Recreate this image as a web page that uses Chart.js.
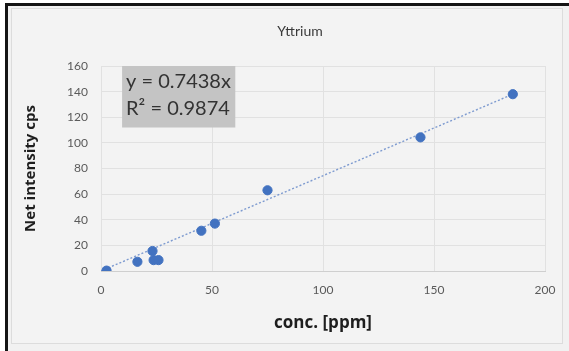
<!DOCTYPE html>
<html>
<head>
<meta charset="utf-8">
<script src="https://cdn.jsdelivr.net/npm/chart.js@4.4.0/dist/chart.umd.min.js"></script>
<style>
  html, body { margin: 0; padding: 0; background: #ffffff; }
  #wrap { position: relative; width: 569px; height: 351px; overflow: hidden; }
  #frame { position: absolute; left: 5px; top: 3px; width: 564px; height: 348px;
           border-left: 3px solid #141414; border-top: 3px solid #141414; box-sizing: border-box;
           background: #f1f1f1; }
  #inner { position: absolute; left: 11px; top: 8px; width: 552px; height: 336px;
           border: 1px solid #dcdcdc; box-sizing: border-box; background: #f3f3f3; }
  canvas { position: absolute; left: 0; top: 0; }
</style>
</head>
<body>
<div id="wrap">
  <div id="frame"></div>
  <div id="inner"></div>
  <canvas id="scatterChart" width="569" height="351"></canvas>
</div>
<script>
// measured points (conc. ppm vs net intensity cps)
let concPpm = [2.5, 16.4, 23.2, 23.7, 25.9, 45.2, 51.3, 75.0, 143.9, 185.5];
let netCps  = [0.3, 7.2, 15.6, 8.5, 8.5, 31.4, 37.0, 63.0, 104.3, 138.0];

// trendline end points
let trendX = [0, 185.5];
let trendY = [0, 138.0];

let chartTitle = 'Yttrium';
let eqLines = ['y = 0.7438x', 'R\u00b2 = 0.9874'];

let xTicks = [0, 50, 100, 150, 200];
let yTicks = [0, 20, 40, 60, 80, 100, 120, 140, 160];

let points = [];
for (let i = 0; i < concPpm.length; i++) {
    points.push({x: concPpm[i], y: netCps[i]});
}
let trend = [];
for (let i = 0; i < trendX.length; i++) {
    trend.push({x: trendX[i], y: trendY[i]});
}

// draws the title and the equation box
const extras = {
    id: 'extras',
    afterDraw(chart) {
        const ctx = chart.ctx;
        const xs = chart.scales.x, ys = chart.scales.y;
        ctx.save();
        ctx.fillStyle = '#3a3a3a';
        ctx.font = '14px Lato, "Open Sans", sans-serif';
        ctx.textAlign = 'center';
        ctx.textBaseline = 'middle';
        ctx.fillText(chartTitle, 300, 31);

        // equation label box, anchored in data space
        const bx = xs.getPixelForValue(9.5);
        const bx2 = xs.getPixelForValue(60.5);
        const by = ys.getPixelForValue(160);
        const by2 = ys.getPixelForValue(112);
        ctx.fillStyle = '#c4c4c4';
        ctx.fillRect(bx, by, bx2 - bx, by2 - by);
        ctx.fillStyle = '#333333';
        ctx.font = '20px Lato, "Open Sans", sans-serif';
        ctx.textAlign = 'left';
        ctx.fillText(eqLines[0], bx + 4, by + 16);
        ctx.fillText(eqLines[1], bx + 4, by + 43);
        ctx.restore();
    }
};

var ctx = document.getElementById('scatterChart').getContext('2d');
var scatterChart = new Chart(ctx, {
    type: 'scatter',
    data: {
        datasets: [{
            data: points,
            backgroundColor: '#4272c0',
            borderColor: '#4272c0',
            pointRadius: 4.6,
            pointHoverRadius: 4.6,
            order: 1
        }, {
            type: 'line',
            data: trend,
            borderColor: '#7e9bd0',
            borderWidth: 1.4,
            borderDash: [2, 2],
            pointRadius: 0,
            fill: false,
            order: 2
        }]
    },
    options: {
        responsive: false,
        animation: false,
        layout: { padding: { left: 14, right: 24, top: 66, bottom: 14 } },
        plugins: {
            legend: { display: false },
            tooltip: { enabled: false }
        },
        scales: {
            x: {
                type: 'linear',
                min: 0,
                max: 200,
                afterBuildTicks: (axis) => { axis.ticks = xTicks.map(v => ({value: v})); },
                afterFit: (axis) => { axis.height = 351 - 14 - 271; },
                grid: { color: '#e1e1e1', drawTicks: false },
                border: { color: '#cfcfcf' },
                ticks: {
                    padding: 12,
                    color: '#5a5a5a',
                    font: { family: 'Lato, "Open Sans", sans-serif', size: 12 }
                },
                title: {
                    display: true,
                    text: 'conc. [ppm]',
                    color: '#1e1e1e',
                    font: { family: '"Open Sans", Lato, sans-serif', size: 17, weight: 'bold' },
                    padding: { top: 0, bottom: 4 }
                }
            },
            y: {
                min: 0,
                max: 160,
                afterBuildTicks: (axis) => { axis.ticks = yTicks.map(v => ({value: v})); },
                afterFit: (axis) => { axis.width = 101 - 14; },
                grid: { color: '#e1e1e1', drawTicks: false },
                border: { display: false },
                ticks: {
                    padding: 13,
                    color: '#5a5a5a',
                    font: { family: 'Lato, "Open Sans", sans-serif', size: 12 }
                },
                title: {
                    display: true,
                    text: 'Net intensity cps',
                    color: '#1e1e1e',
                    font: { family: '"Open Sans", Lato, sans-serif', size: 15, weight: 'bold' },
                    padding: { top: 8, bottom: 0 }
                }
            }
        }
    },
    plugins: [extras]
});
</script>
</body>
</html>
